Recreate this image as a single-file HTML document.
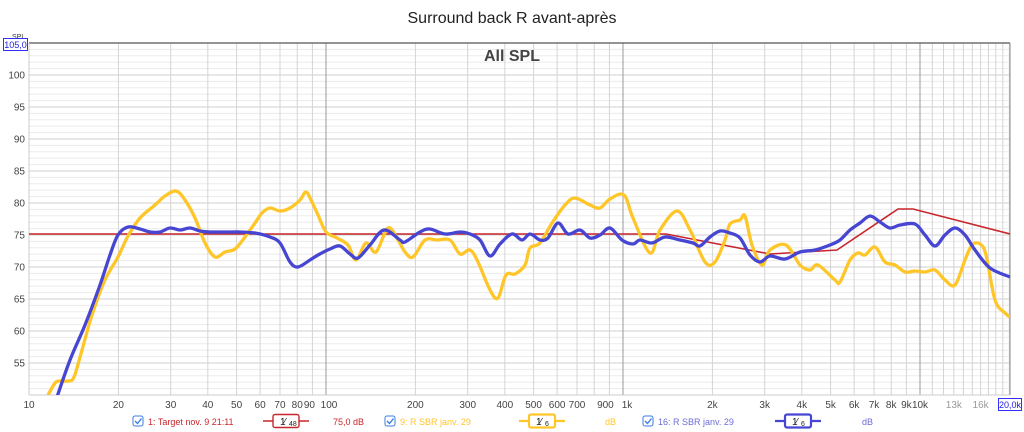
<!DOCTYPE html>
<html><head><meta charset="utf-8"><style>
body{margin:0;background:#fff;width:1024px;height:432px;overflow:hidden;font-family:"Liberation Sans",sans-serif}
svg{position:absolute;left:0;top:0}
</style></head><body>
<svg id="s" width="1024" height="432" xmlns="http://www.w3.org/2000/svg" font-family="Liberation Sans, sans-serif"></svg>
<script>
const s=document.getElementById('s');let h='';
const X=f=>920+297*(Math.log10(f)-4);
const Y=d=>395-(d-50)*6.4;
const L=29,R=1010,T=43,B=395;
for(let d=50;d<=105;d++){const y=Y(d);h+=`<line x1="${L}" x2="${R}" y1="${y}" y2="${y}" stroke="${d%5?'#ececec':'#cfcfcf'}" stroke-width="1"/>`;
 if(d%5==0&&d>50&&d<105)h+=`<text x="25" y="${y+3.5}" font-size="10" fill="#444" text-anchor="end">${d}</text>`;}
const fs=[];for(let dec of [10,100,1000,10000])for(let k=1;k<10;k++){const f=dec*k;if(f<=20000)fs.push(f);}
for(const f of [11000,12000,13000,14000,15000,16000,17000,18000,19000,20000])fs.push(f);
for(const f of fs){const x=X(f);const dec=[100,1000,10000].includes(f);h+=`<line x1="${x}" x2="${x}" y1="${T}" y2="${B}" stroke="${dec?'#999':'#d4d4d4'}"/>`;}
const lab=[[10,'10'],[20,'20'],[30,'30'],[40,'40'],[50,'50'],[60,'60'],[70,'70'],[80,'80'],[90,'90'],[100,'100'],[200,'200'],[300,'300'],[400,'400'],[500,'500'],[600,'600'],[700,'700'],[900,'900'],[1000,'1k'],[2000,'2k'],[3000,'3k'],[4000,'4k'],[5000,'5k'],[6000,'6k'],[7000,'7k'],[8000,'8k'],[9000,'9k'],[10000,'10k']];
for(const [f,t] of lab){let x=X(f);if(f==900)x-=4;if(f==1000)x+=4;if(f==90)x-=3;if(f==100)x+=3;h+=`<text x="${x}" y="408" font-size="10" fill="#444" text-anchor="middle">${t}</text>`;}
h+=`<text x="${X(13000)}" y="408" font-size="10" fill="#999" text-anchor="middle">13k</text><text x="${X(16000)}" y="408" font-size="10" fill="#999" text-anchor="middle">16k</text>`;
h+=`<line x1="${L}" x2="${R}" y1="${T}" y2="${T}" stroke="#555" stroke-width="1.2"/><line x1="${L}" x2="${L}" y1="${T}" y2="${B}" stroke="#ccc"/><line x1="${R}" x2="${R}" y1="${T}" y2="${B}" stroke="#888"/><line x1="${L}" x2="${R}" y1="${B}" y2="${B}" stroke="#ccc"/>`;
function sm(p){let d=`M${p[0][0]},${p[0][1]}`;for(let i=0;i<p.length-1;i++){const p0=p[i-1]||p[i],p1=p[i],p2=p[i+1],p3=p[i+2]||p2;
d+=`C${p1[0]+(p2[0]-p0[0])/6},${p1[1]+(p2[1]-p0[1])/6} ${p2[0]-(p3[0]-p1[0])/6},${p2[1]-(p3[1]-p1[1])/6} ${p2[0]},${p2[1]}`;}return d;}
const yel=[[48,395],[55,383],[60,381],[68,381],[74,377],[82,350],[92,315],[105,280],[118,257],[128,236],[140,218],[155,205],[165,196],[176,191],[185,200],[195,218],[205,243],[215,257],[225,252],[235,249],[245,237],[255,223],[262,213],[270,208],[280,211],[290,208],[300,200],[306,192],[312,202],[318,215],[326,232],[337,238],[348,245],[356,260],[366,243],[376,252],[388,228],[398,240],[405,252],[413,257],[425,240],[437,240],[450,240],[460,254],[470,250],[478,262],[490,290],[498,298],[506,275],[515,274],[525,265],[530,248],[540,243],[552,223],[565,205],[575,198],[590,205],[600,208],[610,199],[624,195],[633,218],[650,253],[660,230],[677,211],[690,230],[705,262],[715,262],[725,240],[730,224],[740,220],[745,216],[752,245],[762,265],[770,250],[786,245],[800,265],[810,270],[818,265],[835,280],[840,282],[850,260],[858,253],[865,255],[875,247],[885,262],[895,265],[905,272],[915,271],[925,272],[935,270],[945,280],[955,285],[965,260],[972,245],[980,244],[986,255],[995,300],[1005,313],[1010,317]];
const blu=[[57,397],[70,360],[85,325],[100,285],[110,255],[118,235],[128,227],[140,229],[150,232],[160,232],[170,228],[180,230],[190,228],[200,231],[210,232],[220,232],[230,232],[240,232],[255,233],[270,237],[280,243],[290,262],[298,267],[310,260],[318,255],[330,249],[340,246],[350,254],[358,258],[370,245],[384,230],[400,240],[405,242],[420,232],[430,229],[445,234],[460,232],[470,234],[480,240],[490,256],[500,244],[512,234],[522,240],[530,234],[540,240],[548,238],[558,223],[568,234],[580,230],[590,238],[600,235],[610,228],[622,240],[633,244],[640,240],[652,243],[665,237],[680,240],[693,243],[700,246],[710,237],[720,231],[730,233],[740,238],[750,255],[760,262],[770,256],[785,259],[800,252],[815,250],[830,245],[840,240],[850,230],[860,223],[870,216],[880,222],[890,228],[900,225],[915,224],[925,235],[935,246],[945,235],[955,228],[965,235],[975,250],[990,268],[1010,277]];
h+=`<defs><clipPath id="c"><rect x="${L}" y="${T}" width="${R-L}" height="${B-T}"/></clipPath></defs><g clip-path="url(#c)">`;
h+=`<polyline points="${L},234 666,234 770,254 837,250 898,209 913,209 1010,234" fill="none" stroke="#c8262c" stroke-width="1.6"/>`;
h+=`<path d="${sm(yel)}" fill="none" stroke="#ffc629" stroke-width="3.3" stroke-linejoin="round"/>`;
h+=`<path d="${sm(blu)}" fill="none" stroke="#4646d2" stroke-width="3.3" stroke-linejoin="round"/></g>`;
h+=`<text x="512" y="23" font-size="16" fill="#222" text-anchor="middle">Surround back R avant-après</text>`;
h+=`<text x="512" y="61" font-size="16" font-weight="bold" fill="#444" text-anchor="middle">All SPL</text>`;
h+=`<text x="12" y="39" font-size="7" fill="#333">SPL</text><rect x="3.5" y="38.5" width="24" height="12" fill="#fff" stroke="#3030ff"/><text x="15.5" y="48" font-size="9" fill="#2020e0" text-anchor="middle">105,0</text>`;
h+=`<rect x="998.5" y="398.5" width="23" height="12" fill="#fff" stroke="#3030ff"/><text x="1010" y="408" font-size="9" fill="#2020e0" text-anchor="middle">20,0k</text>`;
function leg(x,name,col){let g=`<rect x="${x}" y="416" width="10" height="10" rx="2" fill="#fff" stroke="#3a7ee0"/><path d="M${x+2},421 l2.5,2.5 l4,-5" fill="none" stroke="#3a7ee0" stroke-width="1.4"/>`;
g+=`<text x="${x+15}" y="425" font-size="9" fill="${col}">${name}</text>`;return g;}
h+=leg(133,'1: Target nov. 9 21:11','#c8262c');
h+=leg(385,'9: R SBR janv. 29','#ffc629');
h+=leg(643,'16: R SBR janv. 29','#6c6cd8');
function sw(x,col,den,sw){return `<line x1="${x}" x2="${x+46}" y1="421" y2="421" stroke="${col}" stroke-width="${sw}"/><rect x="${x+10}" y="414.5" width="26" height="13" rx="2" fill="#fff" stroke="${col}" stroke-width="${sw}"/><text x="${x+17}" y="425" font-size="10" fill="#222">1</text><text x="${x+21}" y="425" font-size="10" fill="#222">⁄</text><text x="${x+26}" y="426" font-size="7" fill="#222">${den}</text>`;}
h+=sw(263,'#c8262c',48,1.4);h+=sw(519,'#ffc629',6,2.2);h+=sw(775,'#4646d2',6,2.2);
h+=`<text x="333" y="425" font-size="9" fill="#c8262c">75,0 dB</text><text x="605" y="425" font-size="9" fill="#ffc629">dB</text><text x="862" y="425" font-size="9" fill="#6c6cd8">dB</text>`;
s.innerHTML=h;
</script>
</body></html>
